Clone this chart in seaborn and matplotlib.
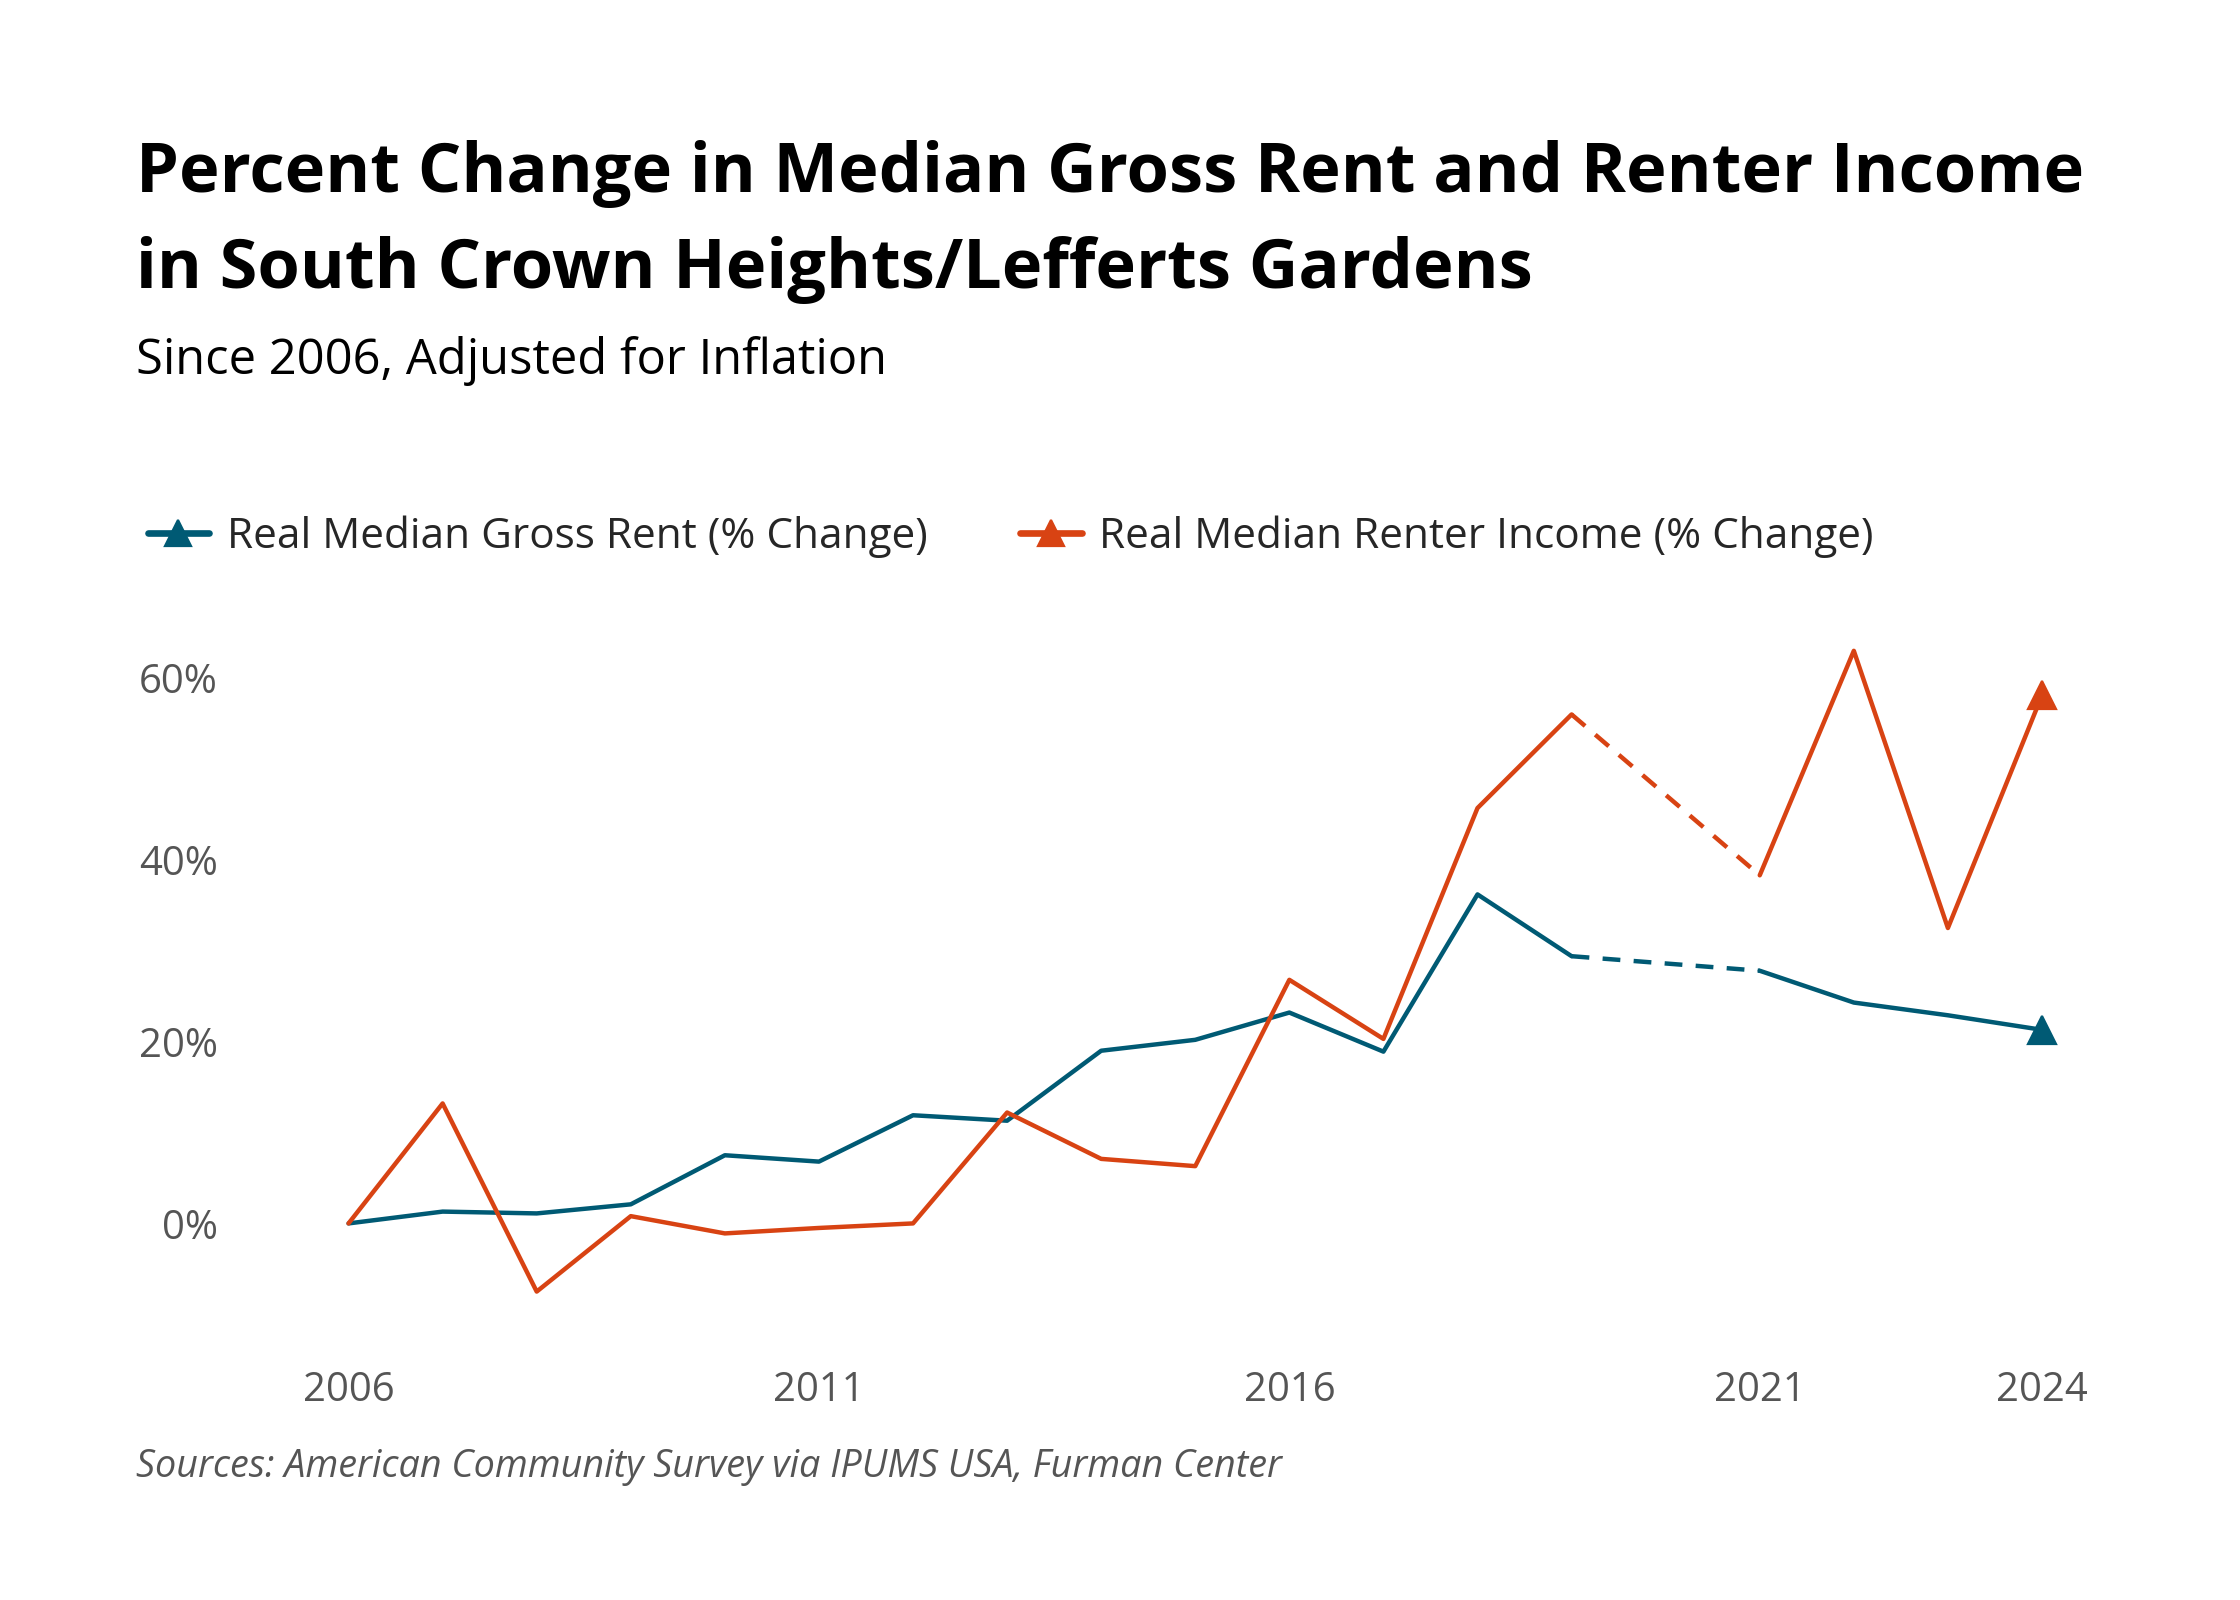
import pandas as pd
import matplotlib.pyplot as plt
import seaborn as sns

years  = [2006, 2007, 2008, 2009, 2010, 2011, 2012, 2013, 2014, 2015, 2016, 2017, 2018, 2019, 2021, 2022, 2023, 2024]
rent   = [0.0, 1.3, 1.1, 2.1, 7.5, 6.8, 11.9, 11.3, 19.0, 20.2, 23.2, 18.9, 36.2, 29.4, 27.8, 24.3, 22.9, 21.3]
income = [0.0, 13.2, -7.5, 0.8, -1.1, -0.5, 0.0, 12.2, 7.1, 6.3, 26.8, 20.3, 45.7, 56.0, 38.3, 63.0, 32.5, 58.1]

xticks = [2006, 2011, 2016, 2021, 2024]
yticks = [0, 20, 40, 60]

BLUE = "#005a74"
ORANGE = "#d84313"

sns.set_theme(style="white")
plt.rcParams['font.family'] = ['Open Sans', 'DejaVu Sans']

df = pd.DataFrame({'year': years, 'rent': rent, 'income': income})
early = df[df.year <= 2019]
gap = df[(df.year == 2019) | (df.year == 2021)]
late = df[df.year >= 2021]

fig = plt.figure(figsize=(14, 10), dpi=160)
ax = fig.add_axes([0.1031, 0.1672, 0.8505, 0.4374])

for col, c in [('rent', BLUE), ('income', ORANGE)]:
    sns.lineplot(data=early, x='year', y=col, color=c, lw=2.0, ax=ax)
    sns.lineplot(data=gap, x='year', y=col, color=c, lw=2.0, ax=ax, dashes=False,
                 linestyle=(0, (4, 3)))
    sns.lineplot(data=late, x='year', y=col, color=c, lw=2.0, ax=ax)
    ax.plot(df.year.iloc[-1], df[col].iloc[-1], marker='^', ms=13, color=c, ls='none')

ax.set_xlim(2004.75, 2025.0)
ax.set_ylim(-12, 65)
ax.set_xticks(xticks)
ax.set_yticks(yticks)
ax.set_yticklabels([f"{v}%" for v in yticks])
ax.set_xlabel('')
ax.set_ylabel('')
ax.tick_params(axis='both', length=0, labelsize=18, labelcolor='#555555')
ax.tick_params(axis='x', pad=17)
ax.tick_params(axis='y', pad=6)
sns.despine(ax=ax, left=True, bottom=True)

fig.text(0.0606, 0.880, "Percent Change in Median Gross Rent and Renter Income",
         fontsize=30.8, fontweight='bold', color='black', va='baseline')
fig.text(0.0606, 0.8197, "in South Crown Heights/Lefferts Gardens",
         fontsize=30.8, fontweight='bold', color='black', va='baseline')
fig.text(0.0606, 0.7665, "Since 2006, Adjusted for Inflation",
         fontsize=22, color='black', va='baseline')

handles = [plt.Line2D([], [], color=BLUE, lw=3, marker='^', ms=12),
           plt.Line2D([], [], color=ORANGE, lw=3, marker='^', ms=12)]
labels = ["Real Median Gross Rent (% Change)", "Real Median Renter Income (% Change)"]
fig.legend(handles, labels, loc='center left', bbox_to_anchor=(0.049, 0.6646), ncol=2,
           frameon=False, fontsize=19, handlelength=1.45, handletextpad=0.42,
           columnspacing=2.2, markerfirst=True)

fig.text(0.0606, 0.0766, "Sources: American Community Survey via IPUMS USA, Furman Center",
         fontsize=17, fontstyle='italic', color='#555555', va='baseline')

fig.savefig('out.png', dpi=160, facecolor='white')
